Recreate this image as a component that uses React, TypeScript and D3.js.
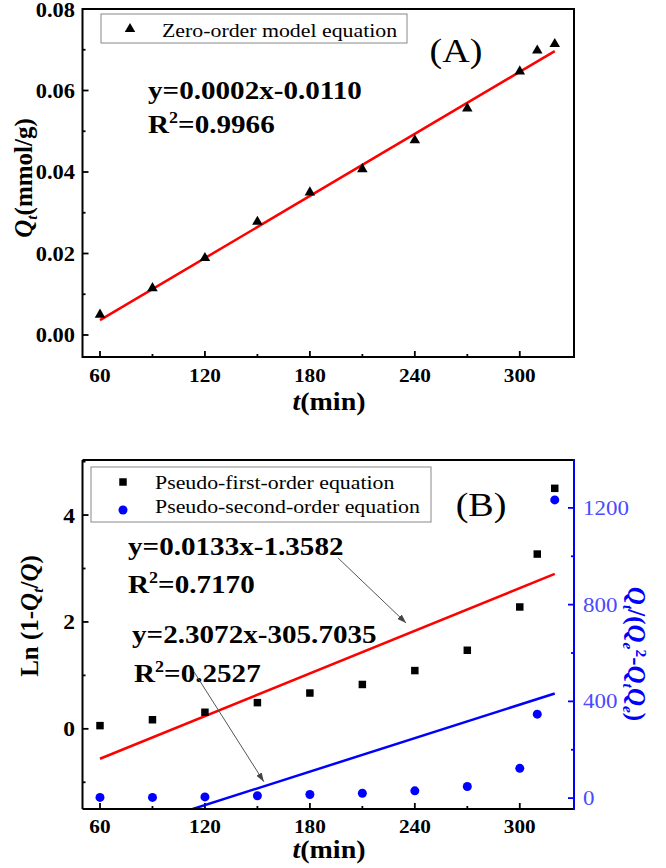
import React from 'react';
import * as d3 from 'd3';

// ---------- Data ----------
const timeA = [60, 90, 120, 150, 180, 210, 240, 270, 300, 310, 320];
const qtA = [0.005, 0.0115, 0.0189, 0.0278, 0.035, 0.0407, 0.0478, 0.0556, 0.0647, 0.0698, 0.0714];
const fitA = { slope: 0.000254, intercept: -0.0116 };
const fitRange = [60, 320];

const timeB = [60, 90, 120, 150, 180, 210, 240, 270, 300, 310, 320];
const lnB = [0.06, 0.17, 0.31, 0.49, 0.67, 0.83, 1.09, 1.47, 2.28, 3.27, 4.5];
const pso2B = [3, 3, 5, 10, 15, 20, 30, 48, 123, 347, 1233];
const fitFirst = { slope: 0.0133, intercept: -1.3582 };
const fitSecond = { slope: 2.3072, intercept: -305.7035 };

const xTicks = [60, 120, 180, 240, 300];
const xMinor = [90, 150, 210, 270];
const yTicksA = [0, 0.02, 0.04, 0.06, 0.08];
const yMinorA = [0.01, 0.03, 0.05, 0.07];
const yTicksBL = [0, 2, 4];
const yMinorBL = [-1, 1, 3, 5];
const yTicksBR = [0, 400, 800, 1200];
const yMinorBR = [200, 600, 1000];

// arrows in data coords (t, left-axis value)
const arrowsB = [
  { from: [196, 3.2], to: [235, 1.98] },
  { from: [113.7, 1.07], to: [153.7, -0.99] },
];

const FONT = '"Liberation Serif", "Times New Roman", Times, serif';
const SX = 1.12;

function T({ x, y, anchor = 'start', size, weight = 'normal', fill = '#000', sx = SX, children }: any) {
  return (
    <text
      transform={`translate(${x},${y}) scale(${sx},1)`}
      textAnchor={anchor}
      fontSize={size}
      fontWeight={weight}
      fill={fill}
      fontFamily={FONT}
    >
      {children}
    </text>
  );
}

export default function App() {
  const W = 666, H = 868;
  const x = d3.scaleLinear().domain([50, 331]).range([82.5, 574]);
  const yA = d3.scaleLinear().domain([-0.0054, 0.08]).range([357, 9]);
  const yBL = d3.scaleLinear().domain([-1.5, 5.03]).range([809, 460]);
  const yBR = d3.scaleLinear().domain([-45, 1398]).range([809, 460]);

  const fitLine = (f: any, ys: any) =>
    d3.line<number>().x((t) => x(t)).y((t) => ys(f.slope * t + f.intercept))(fitRange) as string;

  const tri = d3.symbol().type(d3.symbolTriangle).size(48)() as string;
  const sq = d3.symbol().type(d3.symbolSquare).size(56)() as string;

  const left = x.range()[0], right = x.range()[1];
  const aTop = yA.range()[1], aBot = yA.range()[0];
  const bTop = yBL.range()[1], bBot = yBL.range()[0];

  const eqSize = 26;
  const sub = (s: number) => s * 0.62;

  return (
    <svg width={W} height={H} style={{ position: 'absolute', left: 0, top: 0, background: '#fff' }}>
      <defs>
        <clipPath id="clipB">
          <rect x={left} y={bTop} width={right - left} height={bBot - bTop} />
        </clipPath>
        <marker id="arr" viewBox="0 0 10 10" refX="10" refY="5" markerWidth="9" markerHeight="9" orient="auto" markerUnits="userSpaceOnUse">
          <path d="M0,1.5 L10,5 L0,8.5 Z" fill="#444" />
        </marker>
      </defs>
      <rect width={W} height={H} fill="#fff" />

      {/* ================= Panel A ================= */}
      <g>
        {xTicks.map((t) => (
          <line key={'xa' + t} x1={x(t)} x2={x(t)} y1={aBot} y2={aBot - 6} stroke="#000" strokeWidth={1.8} />
        ))}
        {xMinor.map((t) => (
          <line key={'xam' + t} x1={x(t)} x2={x(t)} y1={aBot} y2={aBot - 3} stroke="#000" strokeWidth={1.8} />
        ))}
        {yTicksA.map((v) => (
          <line key={'ya' + v} x1={left} x2={left + 6} y1={yA(v)} y2={yA(v)} stroke="#000" strokeWidth={1.8} />
        ))}
        {yMinorA.map((v) => (
          <line key={'yam' + v} x1={left} x2={left + 3} y1={yA(v)} y2={yA(v)} stroke="#000" strokeWidth={1.8} />
        ))}
        {yTicksA.map((v) => (
          <T key={'yal' + v} x={75} y={yA(v) + 7.5} anchor="end" size={20} weight="bold">
            {d3.format('.2f')(v)}
          </T>
        ))}
        {xTicks.map((t) => (
          <T key={'xal' + t} x={x(t)} y={382} anchor="middle" size={19} weight="bold">
            {t}
          </T>
        ))}

        <path d={fitLine(fitA, yA)} stroke="#ff0000" strokeWidth={2.5} fill="none" />
        {timeA.map((t, i) => (
          <path key={'pa' + i} d={tri} transform={`translate(${x(t)},${yA(qtA[i])})`} fill="#000" />
        ))}

        <rect x={left} y={aTop} width={right - left} height={aBot - aTop} fill="none" stroke="#000" strokeWidth={2} />

        <rect x={101} y={14} width={306} height={29} fill="none" stroke="#888" strokeWidth={1} />
        <path d={tri} transform="translate(130,29)" fill="#000" />
        <T x={162} y={37} size={19.5}>Zero-order model equation</T>

        <T x={456} y={62} anchor="middle" size={34}>(A)</T>

        <T x={148} y={99} size={eqSize} weight="bold">y=0.0002x-0.0110</T>
        <T x={148} y={133} size={eqSize} weight="bold">
          R<tspan fontSize={sub(eqSize)} dy={-eqSize * 0.4}>2</tspan>
          <tspan dy={eqSize * 0.4}>=0.9966</tspan>
        </T>

        <text transform="translate(32,178) rotate(-90)" textAnchor="middle" fontFamily={FONT} fontSize={25} fontWeight="bold">
          <tspan fontStyle="italic">Q</tspan>
          <tspan fontStyle="italic" fontSize={sub(25)} dy={5}>t</tspan>
          <tspan dy={-5}>(mmol/g)</tspan>
        </text>
        <T x={329} y={410} anchor="middle" size={25} weight="bold">
          <tspan fontStyle="italic">t</tspan>(min)
        </T>
      </g>

      {/* ================= Panel B ================= */}
      <g>
        {xTicks.map((t) => (
          <line key={'xb' + t} x1={x(t)} x2={x(t)} y1={bBot} y2={bBot - 6} stroke="#000" strokeWidth={1.8} />
        ))}
        {xMinor.map((t) => (
          <line key={'xbm' + t} x1={x(t)} x2={x(t)} y1={bBot} y2={bBot - 3} stroke="#000" strokeWidth={1.8} />
        ))}
        {yTicksBL.map((v) => (
          <line key={'ybl' + v} x1={left} x2={left + 6} y1={yBL(v)} y2={yBL(v)} stroke="#000" strokeWidth={1.8} />
        ))}
        {yMinorBL.map((v) => (
          <line key={'yblm' + v} x1={left} x2={left + 3} y1={yBL(v)} y2={yBL(v)} stroke="#000" strokeWidth={1.8} />
        ))}
        {yTicksBR.map((v) => (
          <line key={'ybr' + v} x1={right} x2={right - 6} y1={yBR(v)} y2={yBR(v)} stroke="#0000ff" strokeWidth={1.8} />
        ))}
        {yMinorBR.map((v) => (
          <line key={'ybrm' + v} x1={right} x2={right - 3} y1={yBR(v)} y2={yBR(v)} stroke="#0000ff" strokeWidth={1.8} />
        ))}
        {yTicksBL.map((v) => (
          <T key={'ybll' + v} x={75} y={yBL(v) + 7.5} anchor="end" size={21} weight="bold">
            {v}
          </T>
        ))}
        {yTicksBR.map((v) => (
          <T key={'ybrl' + v} x={583} y={yBR(v) + 7} size={20.5} fill="#4a4aff">
            {v}
          </T>
        ))}
        {xTicks.map((t) => (
          <T key={'xbl' + t} x={x(t)} y={833} anchor="middle" size={19} weight="bold">
            {t}
          </T>
        ))}

        <g clipPath="url(#clipB)">
          <path d={fitLine(fitFirst, yBL)} stroke="#ff0000" strokeWidth={2.5} fill="none" />
          <path d={fitLine(fitSecond, yBR)} stroke="#0000ff" strokeWidth={2.5} fill="none" />
        </g>

        {timeB.map((t, i) => (
          <path key={'sq' + i} d={sq} transform={`translate(${x(t)},${yBL(lnB[i])})`} fill="#000" />
        ))}
        {timeB.map((t, i) => (
          <circle key={'ci' + i} cx={x(t)} cy={yBR(pso2B[i])} r={4.5} fill="#0000ff" />
        ))}

        <line x1={left} x2={right} y1={bTop} y2={bTop} stroke="#000" strokeWidth={2} />
        <line x1={left} x2={right} y1={bBot} y2={bBot} stroke="#000" strokeWidth={2} />
        <line x1={left} x2={left} y1={bTop} y2={bBot} stroke="#000" strokeWidth={2} />
        <line x1={right} x2={right} y1={bTop - 1} y2={bBot + 1} stroke="#0000ff" strokeWidth={2} />

        <rect x={91} y={467} width={340} height={55} fill="#fff" stroke="#888" strokeWidth={1} />
        <path d={sq} transform="translate(123,482)" fill="#000" />
        <circle cx={123} cy={510} r={4.5} fill="#0000ff" />
        <T x={155} y={489} size={19.5}>Pseudo-first-order equation</T>
        <T x={155} y={513} size={19.5}>Pseudo-second-order equation</T>

        <T x={481} y={516} anchor="middle" size={34}>(B)</T>

        <T x={128} y={555} size={eqSize} weight="bold">y=0.0133x-1.3582</T>
        <T x={128} y={593} size={eqSize} weight="bold">
          R<tspan fontSize={sub(eqSize)} dy={-eqSize * 0.4}>2</tspan>
          <tspan dy={eqSize * 0.4}>=0.7170</tspan>
        </T>
        <T x={132} y={643} size={eqSize} weight="bold">y=2.3072x-305.7035</T>
        <T x={134} y={682} size={eqSize} weight="bold">
          R<tspan fontSize={sub(eqSize)} dy={-eqSize * 0.4}>2</tspan>
          <tspan dy={eqSize * 0.4}>=0.2527</tspan>
        </T>

        {arrowsB.map((a, i) => (
          <line
            key={'ar' + i}
            x1={x(a.from[0])}
            y1={yBL(a.from[1])}
            x2={x(a.to[0])}
            y2={yBL(a.to[1])}
            stroke="#555"
            strokeWidth={1}
            markerEnd="url(#arr)"
          />
        ))}

        <text transform="translate(38,616) rotate(-90)" textAnchor="middle" fontFamily={FONT} fontSize={25} fontWeight="bold">
          Ln (1-<tspan fontStyle="italic">Q</tspan>
          <tspan fontStyle="italic" fontSize={sub(25)} dy={5}>t</tspan>
          <tspan dy={-5}>/</tspan>
          <tspan fontStyle="italic">Q</tspan>)
        </text>
        <text transform="translate(628,654) rotate(90)" textAnchor="middle" fontFamily={FONT} fontSize={25} fontWeight="bold" fill="#0000ff">
          <tspan fontStyle="italic">Q</tspan>
          <tspan fontStyle="italic" fontSize={sub(25)} dy={5}>t</tspan>
          <tspan dy={-5}>/(</tspan>
          <tspan fontStyle="italic">Q</tspan>
          <tspan fontStyle="italic" fontSize={sub(25)} dy={5}>e</tspan>
          <tspan fontSize={sub(25)} dy={-13}>2</tspan>
          <tspan dy={8}>-</tspan>
          <tspan fontStyle="italic">Q</tspan>
          <tspan fontStyle="italic" fontSize={sub(25)} dy={5}>t</tspan>
          <tspan fontStyle="italic" dy={-5}>Q</tspan>
          <tspan fontStyle="italic" fontSize={sub(25)} dy={5}>e</tspan>
          <tspan dy={-5}>)</tspan>
        </text>
        <T x={329} y={858} anchor="middle" size={25} weight="bold">
          <tspan fontStyle="italic">t</tspan>(min)
        </T>
      </g>
    </svg>
  );
}
